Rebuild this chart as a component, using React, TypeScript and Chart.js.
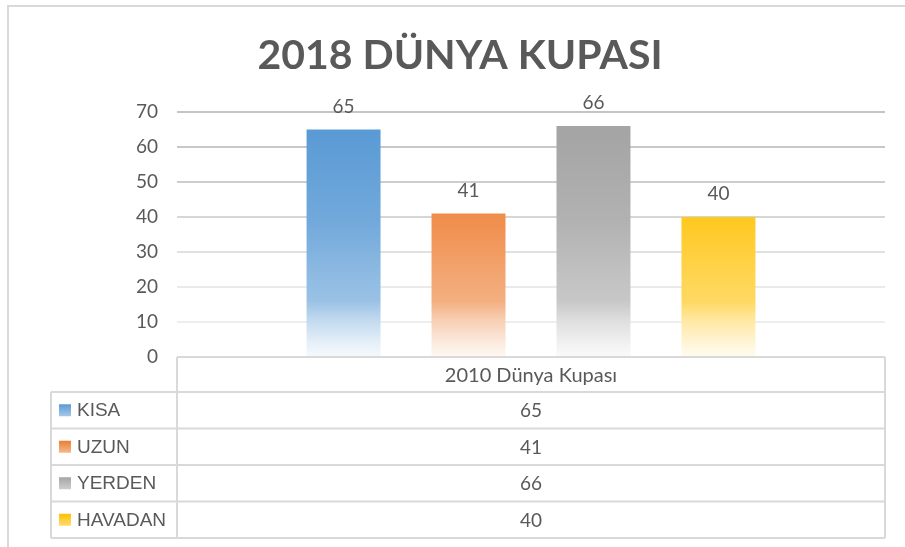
import React, { useEffect, useRef } from "react";
import { Chart, registerables } from "chart.js";

Chart.register(...registerables);

const titleText = "2018 DÜNYA KUPASI";
const categories = ["2010 Dünya Kupası"];
const seriesNames = ["KISA", "UZUN", "YERDEN", "HAVADAN"];
const seriesValues = [65, 41, 66, 40];
const seriesColors = ["#5b9bd5", "#ed7d31", "#a5a5a5", "#ffc000"];
const yTicks = [0, 10, 20, 30, 40, 50, 60, 70];

const TEXT = "#595959";
const LINE = "#d9d9d9";

function hexToRgb(h: string) {
  const n = parseInt(h.slice(1), 16);
  return [(n >> 16) & 255, (n >> 8) & 255, n & 255];
}
function mixWhite(h: string, w: number) {
  const [r, g, b] = hexToRgb(h);
  const m = (c: number) => Math.round(c + (255 - c) * w);
  return `rgb(${m(r)},${m(g)},${m(b)})`;
}

const gradStops: [number, number][] = [
  [0, 0],
  [0.1, 0],
  [0.45, 0.14],
  [0.69, 0.33],
  [0.77, 0.38],
  [0.85, 0.63],
  [0.95, 0.86],
  [1, 0.94],
];

const gridColors: Record<number, string> = {
  70: "#c4c4c4",
  60: "#c8c8c8",
  50: "#cdcdcd",
  40: "#d6d6d6",
  30: "#e1e1e1",
  20: "#eaeaea",
  10: "#eeeeee",
  0: "rgba(0,0,0,0)",
};

const framePlugin = {
  id: "frame",
  beforeDraw(chart: any) {
    const { ctx } = chart;
    ctx.save();
    ctx.fillStyle = "#ffffff";
    ctx.fillRect(0, 0, chart.width, chart.height);
    ctx.strokeStyle = LINE;
    ctx.lineWidth = 2;
    ctx.beginPath();
    ctx.moveTo(8, chart.height);
    ctx.lineTo(8, 6);
    ctx.lineTo(chart.width, 6);
    ctx.stroke();
    ctx.restore();
  },
};

const labelsAndTablePlugin = {
  id: "labelsAndTable",
  afterDraw(chart: any) {
    const { ctx, chartArea } = chart;
    ctx.save();
    // data labels
    ctx.fillStyle = TEXT;
    ctx.font = "19px Lato";
    ctx.textAlign = "center";
    ctx.textBaseline = "alphabetic";
    chart.data.datasets.forEach((ds: any, i: number) => {
      const meta = chart.getDatasetMeta(i);
      meta.data.forEach((bar: any, j: number) => {
        ctx.fillText(String(ds.data[j]), bar.x, bar.y - 17);
      });
    });

    // data table
    const left = chartArea.left;
    const right = chartArea.right;
    const top = chartArea.bottom;
    const legLeft = left - 126;
    const headerH = 35;
    const rowH = 36.5;
    const bottom = top + headerH + rowH * seriesNames.length;

    ctx.strokeStyle = LINE;
    ctx.lineWidth = 2;
    ctx.beginPath();
    ctx.moveTo(left, top);
    ctx.lineTo(right, top);
    ctx.moveTo(left, top);
    ctx.lineTo(left, bottom);
    ctx.moveTo(right, top);
    ctx.lineTo(right, bottom);
    ctx.moveTo(legLeft, top + headerH);
    ctx.lineTo(legLeft, bottom);
    for (let r = 0; r <= seriesNames.length; r++) {
      const y = top + headerH + rowH * r;
      ctx.moveTo(legLeft, y);
      ctx.lineTo(right, y);
    }
    ctx.stroke();

    const cx = (left + right) / 2;
    ctx.fillStyle = TEXT;
    ctx.font = "20px Lato";
    ctx.textAlign = "center";
    ctx.textBaseline = "middle";
    ctx.fillText(categories[0], cx, top + headerH / 2 + 1);

    seriesNames.forEach((name, r) => {
      const yc = top + headerH + rowH * r + rowH / 2;
      ctx.font = "19px Lato";
      ctx.textAlign = "center";
      ctx.fillStyle = TEXT;
      ctx.fillText(String(seriesValues[r]), cx, yc + 1);
      // swatch
      const g = ctx.createLinearGradient(0, yc - 6, 0, yc + 6);
      g.addColorStop(0, seriesColors[r]);
      g.addColorStop(1, mixWhite(seriesColors[r], 0.45));
      ctx.fillStyle = g;
      ctx.fillRect(legLeft + 8, yc - 6, 12, 12);
      ctx.font = "19px 'Liberation Sans'";
      ctx.textAlign = "left";
      ctx.fillStyle = TEXT;
      ctx.fillText(name, legLeft + 26, yc + 1);
    });
    ctx.restore();
  },
};

function barFill(color: string) {
  return (c: any) => {
    const chart = c.chart;
    const area = chart.chartArea;
    if (!area) return color;
    const g = chart.ctx.createLinearGradient(0, area.top, 0, area.bottom);
    gradStops.forEach(([p, w]) => g.addColorStop(p, mixWhite(color, w)));
    return g;
  };
}

export default function App() {
  const ref = useRef<HTMLCanvasElement>(null);
  useEffect(() => {
    document.body.style.margin = "0";
    const canvas = ref.current!;
    const chart = new Chart(canvas, {
      type: "bar",
      data: {
        labels: categories,
        datasets: seriesNames.map((name, i) => ({
          label: name,
          data: [seriesValues[i]],
          backgroundColor: barFill(seriesColors[i]),
          borderWidth: 0,
          categoryPercentage: 0.706,
          barPercentage: 0.592,
        })),
      },
      options: {
        responsive: false,
        animation: false,
        layout: { padding: { top: 0, left: 35, right: 20, bottom: 190 } },
        plugins: {
          legend: { display: false },
          tooltip: { enabled: false },
          title: {
            display: true,
            text: titleText,
            color: TEXT,
            font: { family: "Lato", size: 41, weight: "bold", lineHeight: 1.2 },
            padding: { top: 31, bottom: 31.8 },
          },
        },
        scales: {
          x: { display: false },
          y: {
            min: 0,
            max: 70,
            afterBuildTicks: (s: any) => {
              s.ticks = yTicks.map((v) => ({ value: v }));
            },
            afterFit: (s: any) => {
              s.width = 142;
            },
            border: { display: false },
            grid: {
              drawTicks: false,
              lineWidth: 2,
              color: (c: any) => gridColors[c.tick?.value] ?? LINE,
            },
            ticks: {
              padding: 19,
              color: TEXT,
              font: { family: "Lato", size: 19 },
            },
          },
        },
      },
      plugins: [framePlugin, labelsAndTablePlugin],
    });
    return () => chart.destroy();
  }, []);
  return (
    <div style={{ width: 905, height: 547 }}>
      <canvas ref={ref} width={905} height={547} />
    </div>
  );
}
